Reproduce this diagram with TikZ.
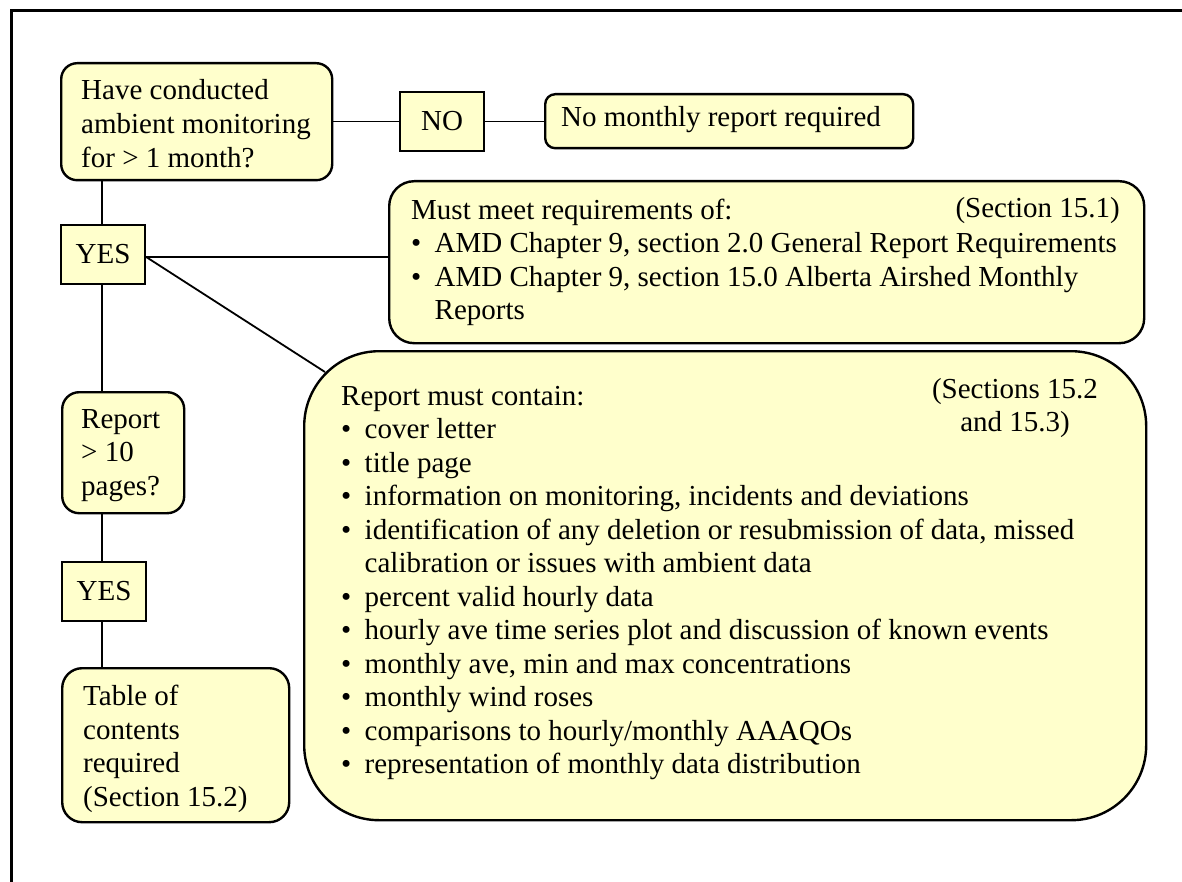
\documentclass[tikz,border=0pt]{standalone}
\usepackage{fontspec}
\setmainfont{Liberation Serif}
\usetikzlibrary{calc}
\definecolor{notefill}{RGB}{255,255,204}
% invisible struts that fix the padding above the first and below the last line
\newcommand\upstrut[1]{\rule{0pt}{#1}}
\newcommand\downstrut[1]{\rule[-#1]{0pt}{#1}\par}
% bulleted line and its hanging continuation
\newcommand\bul[1]{\makebox[23.5pt][l]{\textbullet}#1}
\newcommand\hang[1]{\hspace*{23.5pt}#1}

\begin{document}
\begin{tikzpicture}[x=1pt, y=-1pt,
  every node/.append style={font=\fontsize{29pt}{33.5pt}\selectfont},
  boxline/.style={draw=black, line width=2.4pt, fill=notefill},
  notebox/.style={boxline, anchor=north west, align=flush left, inner ysep=0pt},
  answer/.style={boxline, rectangle, minimum width=84pt, minimum height=59pt, inner sep=0pt},
  link/.style={draw=black, line width=1.8pt},
]
\useasboundingbox (0,0) rectangle (1182,882);
% page frame
\draw[line width=3pt] (11,900) -- (11,11) -- (1200,11);

% question: monitoring period
\node[notebox, rounded corners=16pt, text width=247pt, inner xsep=12pt,
      font=\fontsize{29pt}{34pt}\selectfont] (q1) at (60,62)
  {\leftskip=8pt\relax\upstrut{36pt}Have conducted\\ambient monitoring\\for > 1 month?\downstrut{13pt}};

\node[answer] (no) at (442,121.5) {NO};

\node[notebox, rounded corners=10pt, text width=336pt, inner xsep=16pt] (nm) at (544,93)
  {\upstrut{32pt}No monthly report required\downstrut{22pt}};

\node[answer] (yes1) at (103,254.5) {YES};

% general requirements
\node[notebox, rounded corners=25pt, text width=731pt, inner xsep=12pt] (mm) at (388,180)
  {\leftskip=10pt\relax\upstrut{38pt}Must meet requirements of:\\
   \bul{AMD Chapter 9, section 2.0 General Report Requirements}\\
   \bul{AMD Chapter 9, section 15.0 Alberta Airshed Monthly}\\
   \hang{Reports}\downstrut{23.5pt}};
\node[anchor=base east, inner sep=0pt] (mmref) at (1120,218) {(Section 15.1)};

% report contents
\node[notebox, rounded corners=75pt, text width=802pt, inner xsep=20pt] (rc) at (303,350)
  {\leftskip=17pt\relax\upstrut{54pt}Report must contain:\\
   \bul{cover letter}\\
   \bul{title page}\\
   \bul{information on monitoring, incidents and deviations}\\
   \bul{identification of any deletion or resubmission of data, missed}\\
   \hang{calibration or issues with ambient data}\\
   \bul{percent valid hourly data}\\
   \bul{hourly ave time series plot and discussion of known events}\\
   \bul{monthly ave, min and max concentrations}\\
   \bul{monthly wind roses}\\
   \bul{comparisons to hourly/monthly AAAQOs}\\
   \bul{representation of monthly data distribution}\downstrut{46.5pt}};
\node[align=center, anchor=base, inner sep=0pt] (rcref) at (1015,431.5) {(Sections 15.2\\and 15.3)};

% question: report length
\node[notebox, rounded corners=17pt, text width=102pt, inner xsep=10pt] (q2) at (61,391)
  {\leftskip=9pt\relax\upstrut{36pt}Report\\> 10\\pages?\downstrut{18pt}};

\node[answer] (yes2) at (104,591.5) {YES};

\node[notebox, rounded corners=20pt, text width=203pt, inner xsep=12pt] (tb) at (61,667)
  {\leftskip=9pt\relax\upstrut{37.5pt}Table of\\contents\\required\\(Section 15.2)\downstrut{16pt}};

% connectors
\coordinate (spine) at (102,0);
\coordinate (yes1out) at ($(yes1.east)+(0,2.5)$);
\coordinate (rcjoin) at ($(rc.north west)+(22,22)$);
\draw[link] (q1.east |- no.west) -- (no.west);
\draw[link] (no.east) -- (no.east -| nm.west);
\draw[link] (spine |- q1.south) -- (spine |- yes1.north);
\draw[link] (yes1out) -- (yes1out -| mm.west);
\draw[link] (yes1out) -- (rcjoin);
\draw[link] (spine |- yes1.south) -- (spine |- q2.north);
\draw[link] (spine |- q2.south) -- (spine |- yes2.north);
\draw[link] (spine |- yes2.south) -- (spine |- tb.north);
\end{tikzpicture}
\end{document}
